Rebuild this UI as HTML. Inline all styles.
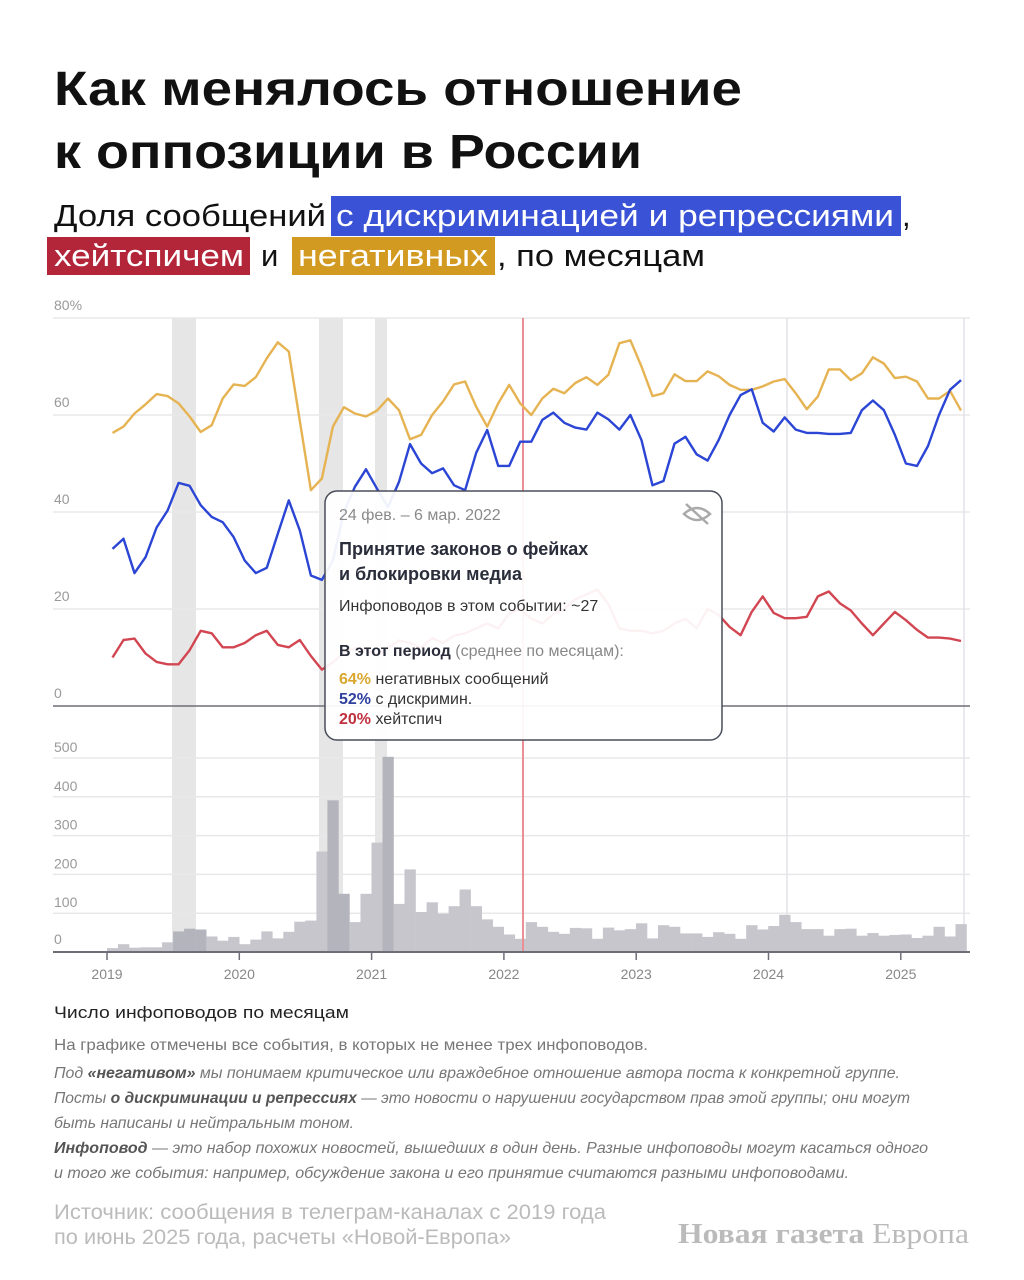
<!DOCTYPE html>
<html><head><meta charset="utf-8">
<style>
html,body{margin:0;padding:0;background:#fff;}
svg{display:block;font-family:"Liberation Sans","Noto Sans CJK SC",sans-serif;}
</style></head>
<body>
<svg id="s" width="1024" height="1280" viewBox="0 0 1024 1280" xmlns="http://www.w3.org/2000/svg">
<rect width="1024" height="1280" fill="#fff"/>
<text x="54" y="105" font-size="48" font-weight="bold" fill="#111" textLength="688" lengthAdjust="spacingAndGlyphs">Как менялось отношение</text>
<text x="54" y="168" font-size="48" font-weight="bold" fill="#111" textLength="588" lengthAdjust="spacingAndGlyphs">к оппозиции в России</text>
<rect x="331" y="196" width="570" height="40" fill="#3a53d6"/>
<rect x="47" y="237" width="203" height="38" fill="#b3263a"/>
<rect x="292" y="237" width="203" height="38" fill="#d39a22"/>
<text x="54" y="226" font-size="31" fill="#111" textLength="272" lengthAdjust="spacingAndGlyphs">Доля сообщений</text>
<text x="336" y="226" font-size="31" fill="#fff" textLength="558" lengthAdjust="spacingAndGlyphs">с дискриминацией и репрессиями</text>
<text x="902" y="226" font-size="31" fill="#111">,</text>
<text x="54" y="266" font-size="31" fill="#fff" textLength="190" lengthAdjust="spacingAndGlyphs">хейтспичем</text>
<text x="261" y="266" font-size="31" fill="#111">и</text>
<text x="298" y="266" font-size="31" fill="#fff" textLength="190" lengthAdjust="spacingAndGlyphs">негативных</text>
<text x="497" y="266" font-size="31" fill="#111" textLength="208" lengthAdjust="spacingAndGlyphs">, по месяцам</text>
<g id="chart"></g>
<g id="tip">
<rect x="325" y="491" width="397" height="249" rx="12" fill="rgba(255,255,255,0.93)" stroke="#4a4d5a" stroke-width="1.5"/>
<text x="339" y="520" font-size="16" fill="#8a8a8a">24 фев. – 6 мар. 2022</text>
<g stroke="#aaa" stroke-width="2.5" fill="none"><path d="M684 514 Q697 502 710 514 Q697 526 684 514Z"/><line x1="686" y1="504" x2="708" y2="524"/></g>
<text x="339" y="555" font-size="18" font-weight="bold" fill="#2a2d3a">Принятие законов о фейках</text>
<text x="339" y="580" font-size="18" font-weight="bold" fill="#2a2d3a">и блокировки медиа</text>
<text x="339" y="611" font-size="16" fill="#333">Инфоповодов в этом событии: ~27</text>
<text x="339" y="656" font-size="16" fill="#333"><tspan font-weight="bold" fill="#2a2d3a">В этот период</tspan><tspan fill="#888"> (среднее по месяцам):</tspan></text>
<text x="339" y="684" font-size="16" fill="#333"><tspan font-weight="bold" fill="#d9a72f">64%</tspan> негативных сообщений</text>
<text x="339" y="704" font-size="16" fill="#333"><tspan font-weight="bold" fill="#2e3f9e">52%</tspan> с дискримин.</text>
<text x="339" y="724" font-size="16" fill="#333"><tspan font-weight="bold" fill="#c0303f">20%</tspan> хейтспич</text>
</g>
<text x="54" y="1018" font-size="17" fill="#222" textLength="295" lengthAdjust="spacingAndGlyphs">Число инфоповодов по месяцам</text>
<text x="54" y="1050" font-size="16" fill="#777" textLength="594" lengthAdjust="spacingAndGlyphs">На графике отмечены все события, в которых не менее трех инфоповодов.</text>
<text x="54" y="1078" font-size="16" fill="#777" font-style="italic" textLength="846" lengthAdjust="spacingAndGlyphs">Под <tspan font-weight="bold" fill="#555">«негативом»</tspan> мы понимаем критическое или враждебное отношение автора поста к конкретной группе.</text>
<text x="54" y="1103" font-size="16" fill="#777" font-style="italic" textLength="856" lengthAdjust="spacingAndGlyphs">Посты <tspan font-weight="bold" fill="#555">о дискриминации и репрессиях</tspan> — это новости о нарушении государством прав этой группы; они могут</text>
<text x="54" y="1128" font-size="16" fill="#777" font-style="italic" textLength="300" lengthAdjust="spacingAndGlyphs">быть написаны и нейтральным тоном.</text>
<text x="54" y="1153" font-size="16" fill="#777" font-style="italic" textLength="874" lengthAdjust="spacingAndGlyphs"><tspan font-weight="bold" fill="#555">Инфоповод</tspan> — это набор похожих новостей, вышедших в один день. Разные инфоповоды могут касаться одного</text>
<text x="54" y="1178" font-size="16" fill="#777" font-style="italic" textLength="795" lengthAdjust="spacingAndGlyphs">и того же события: например, обсуждение закона и его принятие считаются разными инфоповодами.</text>
<text x="54" y="1219" font-size="21" fill="#bbb" textLength="552" lengthAdjust="spacingAndGlyphs">Источник: сообщения в телеграм-каналах с 2019 года</text>
<text x="54" y="1244" font-size="21" fill="#bbb" textLength="457" lengthAdjust="spacingAndGlyphs">по июнь 2025 года, расчеты «Новой-Европа»</text>
<text x="678" y="1243" font-size="29" fill="#bbb" font-family="Liberation Serif,serif" textLength="291" lengthAdjust="spacingAndGlyphs"><tspan font-weight="bold">Новая газета</tspan> Европа</text>
</svg>
<script>
var Y=[56.3,57.6,60.3,62.2,64.3,63.9,62.4,59.7,56.5,57.9,63.4,66.3,66,67.8,71.7,75,73.1,58.8,44.5,46.9,57.6,61.6,60.3,59.7,60.9,63.4,61,55,55.9,60,62.8,66.3,66.9,61.7,57.6,62.4,66.2,62.4,60,63.4,65.4,64.5,66.6,67.8,66.2,68.3,74.8,75.4,70,63.9,64.5,68.4,67,67,69,68,66.2,65.2,65.2,65.9,66.9,67.4,64.5,61.2,63.8,69.4,69.4,67.2,68.6,71.9,70.6,67.6,67.9,66.9,63.4,63.4,65,60.9];
var B=[32.4,34.5,27.4,30.7,36.8,40.3,46,45.4,41.4,39,37.9,34.8,30,27.4,28.5,35.5,42.4,36.2,26.9,26,30,40,45.2,48.8,44.8,41,46.2,54,50,48,49,45.5,44.5,52.2,56.9,49.5,49.5,54.5,54.5,59,60.5,58.4,57.4,57,60.5,59.1,57,60,54.8,45.5,46.4,54.1,55.5,51.9,50.6,54.8,60,64.1,65.3,58.4,56.6,59.5,57,56.3,56.3,56.1,56.1,56.3,61,63,61,55.9,50,49.5,53.6,60,65.2,67.2];
var R=[10,13.6,13.9,10.8,9.1,8.6,8.6,11.5,15.5,15,12.1,12.1,13,14.6,15.5,12.6,12.1,13.6,10.3,7.5,9,11,12,11.5,10.5,12,13.5,13,12,14,13,14.5,15,16,17,16,19,20,18,17,19,20,22,23,24,21,16,15.5,15.5,15,15.5,17,18,16,20,18.8,16.3,14.6,19.4,22.6,19.2,18.1,18.1,18.4,22.6,23.6,21.2,19.7,17,14.6,17,19.4,17.7,15.7,14.1,14.1,13.9,13.4];
var N=[10,20,11,12,12,25,53,60,58,40,29,39,20,32,53,35,52,78,81,259,391,150,77,150,282,503,124,213,103,128,99,118,161,118,84,65,45,34,77,65,52,47,62,61,34,63,56,59,74,35,69,65,48,48,39,51,47,34,69,58,67,96,77,59,59,42,59,60,42,49,42,44,45,36,42,65,40,72];
var g='',M=11.02,X0=107;
function px(i){return 112.5+M*i;}
function py(v){return 706-v*4.85;}
[[172,196],[319,343],[375,387]].forEach(function(b){g+='<rect x="'+b[0]+'" y="318" width="'+(b[1]-b[0])+'" height="634" fill="#e6e6e6"/>';});
[[80,318],[60,415],[40,512],[20,609]].forEach(function(t){g+='<line x1="53" x2="970" y1="'+t[1]+'" y2="'+t[1]+'" stroke="#e8e8ea" stroke-width="1.5"/>';g+='<text x="54" y="'+(t[1]-8)+'" font-size="14" fill="#999">'+(t[0]==80?'80%':t[0])+'</text>';});
g+='<text x="54" y="698" font-size="14" fill="#999">0</text>';
for(var k=1;k<=5;k++){var yy=952-k*38.8;g+='<line x1="53" x2="970" y1="'+yy+'" y2="'+yy+'" stroke="#e8e8ea" stroke-width="1.5"/>';g+='<text x="54" y="'+(yy-6)+'" font-size="14" fill="#999">'+(k*100)+'</text>';}
g+='<text x="54" y="944" font-size="14" fill="#999">0</text>';
g+='<line x1="787" x2="787" y1="318" y2="952" stroke="#e4e4e8" stroke-width="1.5"/>';
g+='<line x1="964" x2="964" y1="318" y2="952" stroke="#e4e4e8" stroke-width="1.5"/>';
for(var i=0;i<N.length;i++){var x=X0+M*i,h=N[i]*0.388;var inb=(x>=170&&x<196)||(x>=317&&x<343)||(x>=373&&x<387);g+='<rect x="'+x.toFixed(1)+'" y="'+(952-h).toFixed(1)+'" width="'+(M+0.3).toFixed(1)+'" height="'+h.toFixed(1)+'" fill="'+(inb?'#b4b4bc':'#c6c6cc')+'"/>';}
g+='<line x1="523" x2="523" y1="318" y2="952" stroke="#ec8e95" stroke-width="2"/>';
function line(a,c){var d='';a.forEach(function(v,i){d+=(i?'L':'M')+px(i).toFixed(1)+' '+py(v).toFixed(1);});return '<path d="'+d+'" fill="none" stroke="'+c+'" stroke-width="2.4" stroke-linejoin="round"/>';}
g+=line(Y,'#e6b352')+line(B,'#2b45d4')+line(R,'#d24652');
g+='<line x1="53" x2="970" y1="706" y2="706" stroke="#6e6e78" stroke-width="1.5"/>';
g+='<line x1="53" x2="970" y1="952" y2="952" stroke="#6e6e78" stroke-width="2"/>';
for(var yr=0;yr<7;yr++){var x=X0+yr*132.3;g+='<line x1="'+x+'" x2="'+x+'" y1="952" y2="960" stroke="#6e6e78" stroke-width="1.5"/>';g+='<text x="'+x+'" y="979" font-size="14" fill="#888" text-anchor="middle">'+(2019+yr)+'</text>';}
document.getElementById('chart').innerHTML=g;
</script>
</body></html>
